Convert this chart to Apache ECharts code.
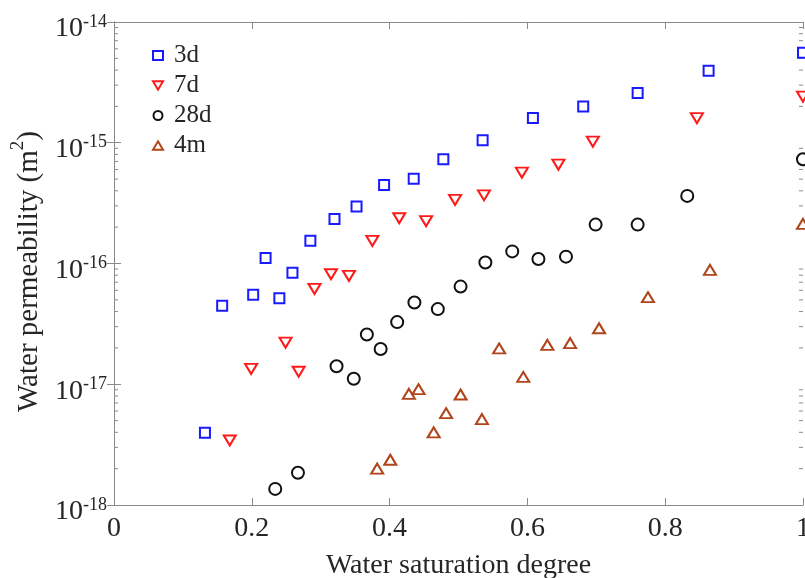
<!DOCTYPE html>
<html>
<head>
<meta charset="utf-8">
<style>
  html, body { margin: 0; padding: 0; background: #fff; }
  #chart { width: 805px; height: 578px; }
</style>
<script src="https://cdn.jsdelivr.net/npm/echarts@6/dist/echarts.min.js"></script>
</head>
<body>
<div id="chart"></div>
<script>
// Water permeability (m^2) vs. water saturation degree, by curing age
const xTicks = [0, 0.2, 0.4, 0.6, 0.8, 1];

const s3d = [
  [0.132, 3.96e-18], [0.157, 4.46e-17], [0.202, 5.5e-17], [0.220, 1.11e-16],
  [0.240, 5.16e-17], [0.259, 8.4e-17], [0.285, 1.54e-16], [0.320, 2.34e-16],
  [0.352, 2.96e-16], [0.392, 4.47e-16], [0.435, 5.04e-16], [0.478, 7.3e-16],
  [0.535, 1.05e-15], [0.608, 1.6e-15], [0.681, 2.0e-15], [0.760, 2.58e-15],
  [0.863, 3.95e-15], [1.0, 5.57e-15]
];
const s7d = [
  [0.168, 3.42e-18], [0.199, 1.34e-17], [0.249, 2.21e-17], [0.268, 1.27e-17],
  [0.291, 6.16e-17], [0.315, 8.15e-17], [0.341, 7.9e-17], [0.375, 1.54e-16],
  [0.414, 2.37e-16], [0.453, 2.24e-16], [0.495, 3.36e-16], [0.537, 3.67e-16],
  [0.592, 5.66e-16], [0.645, 6.59e-16], [0.695, 1.02e-15], [0.846, 1.6e-15],
  [1.0, 2.41e-15]
];
const s28d = [
  [0.234, 1.36e-18], [0.267, 1.85e-18], [0.323, 1.41e-17], [0.348, 1.11e-17],
  [0.367, 2.58e-17], [0.387, 1.96e-17], [0.411, 3.27e-17], [0.436, 4.75e-17],
  [0.470, 4.19e-17], [0.503, 6.44e-17], [0.539, 1.02e-16], [0.578, 1.26e-16],
  [0.616, 1.09e-16], [0.656, 1.14e-16], [0.699, 2.1e-16], [0.760, 2.1e-16],
  [0.832, 3.63e-16], [1.0, 7.3e-16]
];
const s4m = [
  [0.382, 2.0e-18], [0.401, 2.37e-18], [0.428, 8.33e-18], [0.442, 9.1e-18],
  [0.464, 4.0e-18], [0.482, 5.76e-18], [0.503, 8.22e-18], [0.534, 5.14e-18],
  [0.559, 1.98e-17], [0.594, 1.15e-17], [0.629, 2.12e-17], [0.662, 2.19e-17],
  [0.704, 2.91e-17], [0.775, 5.26e-17], [0.865, 8.85e-17], [1.0, 2.13e-16]
];

const seriesNames = ['3d', '7d', '28d', '4m'];

const yMin = 1e-18, yMax = 1e-14;

// minor log ticks: 2..9 within each decade
const minorTicks = [];
for (let e = -18; e < -14; e++) {
  for (let m = 2; m <= 9; m++) minorTicks.push(m * Math.pow(10, e));
}

const FONT = '"Liberation Serif", "Times New Roman", serif';
const TEXT = '#262626';
const AXIS = '#8a8a8a';

// downward / upward triangles as paths so the legend icons match the marks
const TRI_DOWN = 'path://M0,0L12,0L6,10Z';
const TRI_UP = 'path://M6,0L12,10L0,10Z';

function hollow(name, data, symbol, color, size) {
  return {
    name: name,
    type: 'scatter',
    data: data,
    symbol: symbol,
    symbolSize: size,
    itemStyle: { color: '#fff', borderColor: color, borderWidth: 2, opacity: 1 },
    emphasis: { disabled: true },
    clip: false,
    z: 5
  };
}

const chart = echarts.init(document.getElementById('chart'), null, { renderer: 'canvas' });

const option = {
  animation: false,
  backgroundColor: '#fff',
  textStyle: { fontFamily: FONT, color: TEXT },
  grid: { left: 114, right: 2, top: 22, bottom: 73, outerBoundsMode: 'none', containLabel: false },
  legend: {
    data: seriesNames,
    orient: 'vertical',
    left: 147,
    top: 38,
    itemWidth: 10,
    itemHeight: 9,
    itemGap: 5,
    textStyle: { fontFamily: FONT, fontSize: 25, color: TEXT, padding: [0, 0, 0, 6] },
    selectedMode: false
  },
  xAxis: [
    {
      type: 'value', min: 0, max: 1, interval: 0.2, position: 'bottom',
      axisLine: { show: true, lineStyle: { color: AXIS, width: 1 } },
      axisTick: { show: true, inside: true, length: 7, lineStyle: { color: AXIS } },
      splitLine: { show: false },
      axisLabel: {
        fontFamily: FONT, fontSize: 28, color: TEXT, margin: 10,
        formatter: v => (xTicks.indexOf(+v.toFixed(1)) >= 0 ? String(+v.toFixed(1)) : '')
      },
      name: 'Water saturation degree',
      nameLocation: 'middle',
      nameGap: 47,
      nameTextStyle: { fontFamily: FONT, fontSize: 28, color: TEXT }
    },
    {
      type: 'value', min: 0, max: 1, interval: 0.2, position: 'top',
      axisLine: { show: true, lineStyle: { color: AXIS, width: 1 } },
      axisTick: { show: true, inside: true, length: 7, lineStyle: { color: AXIS } },
      axisLabel: { show: false },
      splitLine: { show: false }
    }
  ],
  yAxis: [
    {
      type: 'log', logBase: 10, min: yMin, max: yMax, position: 'left',
      axisLine: { show: true, lineStyle: { color: AXIS, width: 1 } },
      axisTick: { show: true, inside: true, length: 7, lineStyle: { color: AXIS } },
      splitLine: { show: false },
      axisLabel: {
        margin: 7,
        padding: [12, 0, 0, 0],
        formatter: v => {
          const e = Math.round(Math.log10(v));
          return '{b|10}{s|' + e + '}';
        },
        rich: {
          b: { fontFamily: FONT, fontSize: 28, color: TEXT, lineHeight: 30, verticalAlign: 'bottom' },
          s: { fontFamily: FONT, fontSize: 18, color: TEXT, lineHeight: 17, verticalAlign: 'top' }
        }
      },
      name: '{t|Water permeability (m}{s|2}{t|)}',
      nameLocation: 'middle',
      nameGap: 59,
      nameRotate: 90,
      nameTextStyle: {
        padding: [0, 16, 0, 0],
        rich: {
          t: { fontFamily: FONT, fontSize: 29, color: TEXT, lineHeight: 36, verticalAlign: 'bottom' },
          s: { fontFamily: FONT, fontSize: 19, color: TEXT, lineHeight: 19, verticalAlign: 'top' }
        }
      }
    },
    {
      type: 'log', logBase: 10, min: yMin, max: yMax, position: 'right',
      axisLine: { show: true, lineStyle: { color: AXIS, width: 1 } },
      axisTick: { show: true, inside: true, length: 7, lineStyle: { color: AXIS } },
      axisLabel: { show: false },
      splitLine: { show: false }
    }
  ],
  series: [
    {
      name: 'minor-ticks',
      type: 'custom',
      silent: true,
      clip: false,
      data: minorTicks.map(v => [v]),
      renderItem: function (params, api) {
        const v = api.value(0);
        const l = api.coord([0, v]);
        const r = api.coord([1, v]);
        const st = { stroke: AXIS, lineWidth: 1 };
        return {
          type: 'group',
          children: [
            { type: 'line', shape: { x1: l[0], y1: l[1], x2: l[0] + 4, y2: l[1] }, style: st },
            { type: 'line', shape: { x1: r[0], y1: r[1], x2: r[0] - 4, y2: r[1] }, style: st }
          ]
        };
      },
      z: 1
    },
    hollow('3d', s3d, 'rect', '#1a1aff', 10),
    hollow('7d', s7d, TRI_DOWN, '#ff1a1a', [12, 10]),
    hollow('28d', s28d, 'circle', '#111111', 12),
    hollow('4m', s4m, TRI_UP, '#b0441a', [12, 10])
  ]
};

chart.setOption(option);
</script>
</body>
</html>
